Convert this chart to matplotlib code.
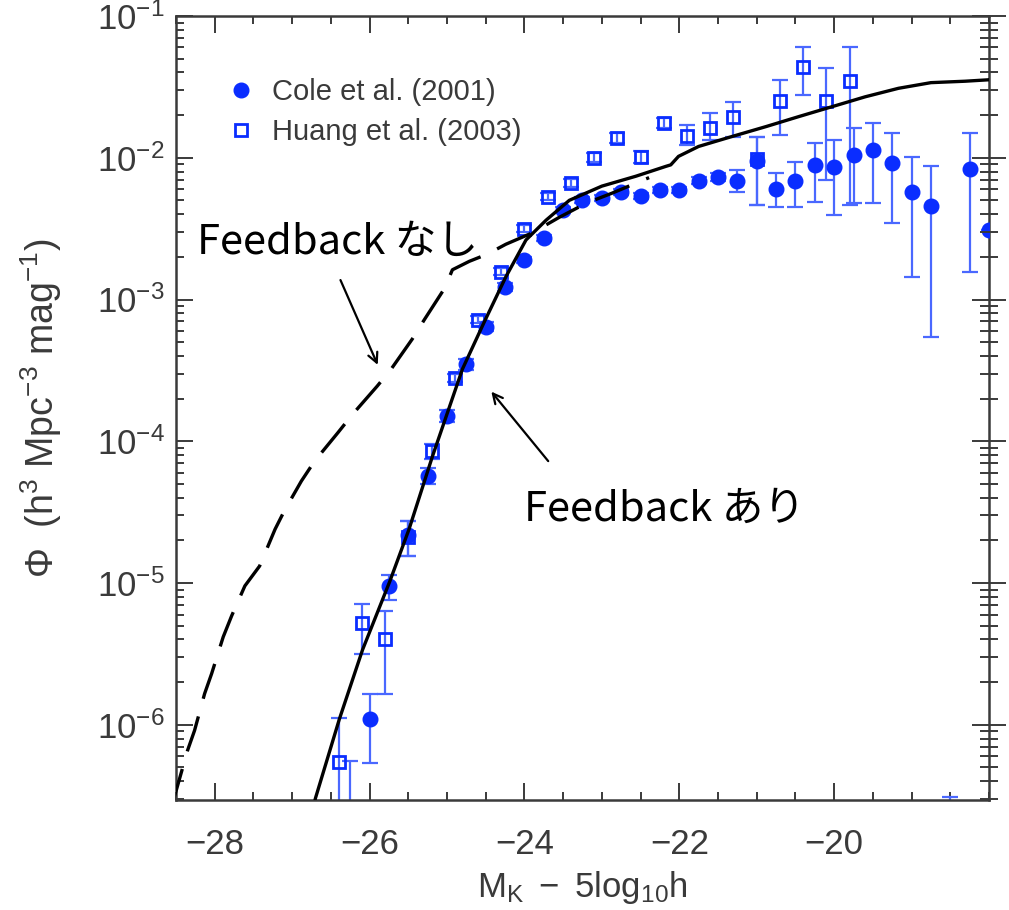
import matplotlib

matplotlib.use("Agg")
import matplotlib.pyplot as plt
from matplotlib.ticker import MultipleLocator, LogLocator, NullFormatter

# ---- data ----
# Cole et al. (2001): filled circles
cole_x = [-26.25, -26.0, -25.75, -25.5, -25.25, -25.0, -24.75, -24.5, -24.25, -24.0,
          -23.75, -23.5, -23.25, -23.0, -22.75, -22.5, -22.25, -22.0, -21.75, -21.5,
          -21.25, -21.0, -20.75, -20.5, -20.25, -20.0, -19.75, -19.5, -19.25, -19.0,
          -18.75, -18.5, -18.25, -18.0]
cole_phi = [2.0e-7, 1.10e-6, 9.5e-6, 2.18e-5, 5.7e-5, 1.5e-4, 3.5e-4, 6.45e-4, 1.22e-3, 1.91e-3,
            2.73e-3, 4.3e-3, 5.06e-3, 5.2e-3, 5.77e-3, 5.40e-3, 5.95e-3, 5.95e-3, 6.89e-3, 7.35e-3,
            6.89e-3, 9.53e-3, 6.05e-3, 6.89e-3, 8.93e-3, 8.65e-3, 1.05e-2, 1.14e-2, 9.23e-3, 5.77e-3,
            4.59e-3, 2.0e-7, 8.37e-3, 3.11e-3]
cole_lo = [1.5e-7, 5.4e-7, 7.6e-6, 1.55e-5, 5.0e-5, 1.36e-4, 3.2e-4, 6.0e-4, 1.15e-3, 1.8e-3,
           2.6e-3, 4.1e-3, 4.8e-3, 4.95e-3, 5.5e-3, 5.15e-3, 5.65e-3, 5.65e-3, 6.5e-3, 6.9e-3,
           5.77e-3, 4.67e-3, 4.52e-3, 4.52e-3, 4.90e-3, 3.97e-3, 4.82e-3, 4.82e-3, 3.48e-3, 1.45e-3,
           5.48e-4, 1.5e-7, 1.57e-3, 3.11e-3]
cole_hi = [5.6e-7, 1.65e-6, 1.14e-5, 2.73e-5, 6.5e-5, 1.65e-4, 3.8e-4, 6.9e-4, 1.3e-3, 2.0e-3,
           2.85e-3, 4.5e-3, 5.3e-3, 5.45e-3, 6.05e-3, 5.65e-3, 6.25e-3, 6.25e-3, 7.3e-3, 7.8e-3,
           8.22e-3, 1.41e-2, 7.83e-3, 9.38e-3, 1.28e-2, 1.34e-2, 1.63e-2, 1.76e-2, 1.50e-2, 1.02e-2,
           8.79e-3, 3.1e-7, 1.50e-2, 3.11e-3]

# Huang et al. (2003): open squares
huang_x = [-26.4, -26.1, -25.8, -25.5, -25.2, -24.9, -24.6, -24.3, -24.0, -23.7,
           -23.4, -23.1, -22.8, -22.5, -22.2, -21.9, -21.6, -21.3, -21.0, -20.7,
           -20.4, -20.1, -19.8]
huang_phi = [5.48e-7, 5.22e-6, 4.03e-6, 2.11e-5, 8.5e-5, 2.78e-4, 7.23e-4, 1.57e-3, 3.16e-3, 5.31e-3,
             6.67e-3, 1.0e-2, 1.38e-2, 1.02e-2, 1.76e-2, 1.43e-2, 1.63e-2, 1.95e-2, 9.84e-3, 2.52e-2,
             4.37e-2, 2.52e-2, 3.48e-2]
huang_lo = [1.0e-7, 3.16e-6, 1.65e-6, 1.55e-5, 7.5e-5, 2.6e-4, 6.8e-4, 1.48e-3, 2.98e-3, 5.0e-3,
            6.25e-3, 9.3e-3, 1.28e-2, 9.2e-3, 1.62e-2, 1.24e-2, 1.34e-2, 1.41e-2, 4.67e-3, 1.45e-2,
            2.78e-2, 7.0e-3, 4.67e-3]
huang_hi = [1.12e-6, 7.1e-6, 6.35e-6, 2.73e-5, 9.5e-5, 2.96e-4, 7.7e-4, 1.66e-3, 3.35e-3, 5.6e-3,
            7.1e-3, 1.08e-2, 1.5e-2, 1.12e-2, 1.9e-2, 1.71e-2, 2.07e-2, 2.48e-2, 1.41e-2, 3.54e-2,
            6.05e-2, 4.31e-2, 6.05e-2]

# model: with feedback (solid)
fb_x = [-26.77, -26.70, -26.39, -26.09, -25.74, -25.49, -25.19, -24.80, -24.52, -24.24,
        -23.98, -23.72, -23.42, -23.00, -22.56, -22.17, -22.11, -22.01, -21.75, -21.32,
        -20.88, -20.46, -20.03, -19.60, -19.17, -18.75, -18.31, -18.01]
fb_logphi = [-6.70, -6.52, -5.96, -5.47, -4.99, -4.62, -4.11, -3.49, -3.16, -2.84,
             -2.58, -2.44, -2.30, -2.20, -2.13, -2.06, -2.05, -1.99, -1.92, -1.85,
             -1.78, -1.71, -1.64, -1.57, -1.51, -1.47, -1.46, -1.45]

# model: without feedback (dashed)
nofb_x = [-28.55, -28.49, -28.35, -28.26, -28.13, -28.04, -27.89, -27.78, -27.61, -27.42,
          -27.22, -27.10, -26.88, -26.71, -26.41, -26.22, -25.90, -25.72, -25.45, -25.29,
          -25.03, -24.93, -24.71, -24.48, -24.24, -23.90, -23.55, -23.20, -22.87, -22.39]
nofb_logphi = [-6.56, -6.45, -6.18, -6.04, -5.78, -5.64, -5.38, -5.23, -5.02, -4.88,
               -4.62, -4.49, -4.28, -4.14, -3.94, -3.81, -3.61, -3.49, -3.28, -3.14,
               -2.92, -2.79, -2.73, -2.68, -2.61, -2.53, -2.42, -2.32, -2.25, -2.14]

x_ticks = [-28, -26, -24, -22, -20]

ink = "#3a3a3a"
blue = "#0a2dff"
bar_blue = "#4a68ff"

plt.rcParams["font.family"] = ["Liberation Sans", "DejaVu Sans"]
plt.rcParams["mathtext.fontset"] = "custom"
plt.rcParams["mathtext.rm"] = "Liberation Sans"
plt.rcParams["mathtext.it"] = "Liberation Sans"

fig = plt.figure(figsize=(10.09, 9.10), dpi=100)
ax = fig.add_axes([0.1744, 0.1209, 0.8058, 0.8615])

# error bars
ax.errorbar(cole_x, cole_phi,
            yerr=[[p - l for p, l in zip(cole_phi, cole_lo)],
                  [h - p for p, h in zip(cole_phi, cole_hi)]],
            fmt="none", ecolor=bar_blue, elinewidth=1.6, capsize=5.5, capthick=1.6, zorder=2)
ax.errorbar(huang_x, huang_phi,
            yerr=[[p - l for p, l in zip(huang_phi, huang_lo)],
                  [h - p for p, h in zip(huang_phi, huang_hi)]],
            fmt="none", ecolor=bar_blue, elinewidth=1.6, capsize=5.5, capthick=1.6, zorder=2)

# markers
ax.plot(cole_x, cole_phi, "o", color=blue, ms=10.5, mec=blue, ls="none",
        label="Cole et al. (2001)", zorder=3)
ax.plot(huang_x, huang_phi, "s", mfc="none", mec=blue, ms=9, mew=2.0, ls="none",
        label="Huang et al. (2003)", zorder=3)

# model curves
ax.plot(fb_x, [10 ** v for v in fb_logphi], color="black", lw=2.4, zorder=4)
dash, = ax.plot(nofb_x, [10 ** v for v in nofb_logphi], color="black", lw=2.4, zorder=4)
dash.set_dashes([11, 5.5])

ax.set_yscale("log")
ax.set_xlim(-28.5, -18.0)
ax.set_ylim(2.95e-7, 0.1)

ax.set_xticks(x_ticks)
ax.xaxis.set_minor_locator(MultipleLocator(0.5))
ax.yaxis.set_major_locator(LogLocator(base=10, numticks=20))
ax.yaxis.set_minor_locator(LogLocator(base=10, subs=range(2, 10), numticks=20))

for s in ax.spines.values():
    s.set_linewidth(1.8)
    s.set_color(ink)
ax.tick_params(which="both", direction="in", top=True, right=False, colors=ink,
               labelsize=25, width=1.4)
ax.tick_params(which="major", length=12)
ax.tick_params(which="minor", length=6)
ax.tick_params(axis="x", pad=20)
ax.tick_params(axis="y", pad=8)

# right side: ticks poke out on both sides of the spine
ax2 = ax.twinx()
ax2.set_yscale("log")
ax2.set_ylim(ax.get_ylim())
ax2.yaxis.set_major_locator(LogLocator(base=10, numticks=20))
ax2.yaxis.set_minor_locator(LogLocator(base=10, subs=range(2, 10), numticks=20))
ax2.yaxis.set_major_formatter(NullFormatter())
ax2.yaxis.set_minor_formatter(NullFormatter())
ax2.tick_params(which="both", direction="inout", colors=ink, width=1.4)
ax2.tick_params(which="major", length=24)
ax2.tick_params(which="minor", length=13)
for s in ax2.spines.values():
    s.set_visible(False)

ax.set_xlabel(r"$\mathrm{M_K\ -\ 5log_{10}h}$", fontsize=25, color=ink, labelpad=6)
ax.set_ylabel(r"$\Phi\ \ (\mathrm{h^3\ Mpc^{-3}\ mag^{-1}})$", fontsize=27, color=ink, labelpad=24)

leg = ax.legend(loc="upper left", bbox_to_anchor=(0.03, 0.954), frameon=False,
                fontsize=21, handlelength=1.0, handletextpad=0.55, labelspacing=0.4,
                labelcolor=ink)

# annotations
jp = ["Noto Sans CJK JP", "DejaVu Sans"]
ax.text(-28.23, 2.52e-3, "Feedback なし", fontsize=30, family=jp, ha="left", va="center")
ax.text(-24.00, 3.32e-5, "Feedback あり", fontsize=30, family=jp, ha="left", va="center")
ax.annotate("", xy=(-25.88, 3.32e-4), xytext=(-26.39, 1.43e-3),
            arrowprops=dict(arrowstyle="->,head_length=0.7,head_width=0.35", lw=1.6, color="black"))
ax.annotate("", xy=(-24.45, 2.32e-4), xytext=(-23.67, 7.0e-5),
            arrowprops=dict(arrowstyle="->,head_length=0.7,head_width=0.35", lw=1.6, color="black"))

plt.savefig("out.png", dpi=100)
plt.close()
